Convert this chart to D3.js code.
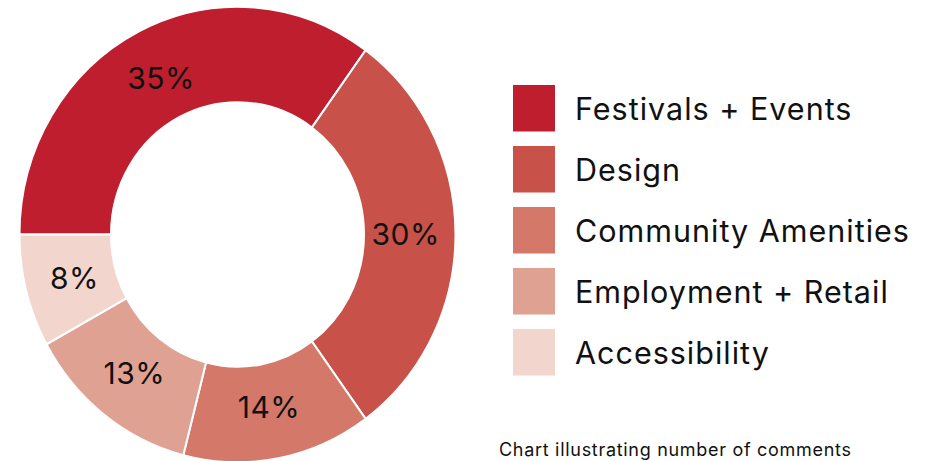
<!DOCTYPE html>
<html>
<head>
<meta charset="utf-8">
<script src="https://d3js.org/d3.v7.min.js"></script>
<style>
  html, body { margin: 0; padding: 0; background: #fff; }
  svg text { font-family: Inter, 'Open Sans', sans-serif; fill: #111; }
</style>
</head>
<body>
<script>
var categories = ['Festivals + Events', 'Design', 'Community Amenities', 'Employment + Retail', 'Accessibility'];
var shares = [35, 30, 14, 13, 8];
var colours = ['#be1e2d', '#c8524a', '#d4796a', '#dfa192', '#f2d6cd'];

var w = 939, h = 461;
var cx = 237.5, cy = 234.5,
    rOuter = 218, rInner = 126.5,
    squash = 1.045; // reference donut is a touch taller than wide

var svg = d3.select('body').append('svg')
  .attr('width', w)
  .attr('height', h);

var colour = d3.scaleOrdinal().domain(categories).range(colours);

var pie = d3.pie()
  .sort(null)
  .startAngle(-Math.PI / 2)
  .endAngle(Math.PI * 1.5)
  .value(function(d, i) { return shares[i]; });

var arcs = pie(categories);

var arc = d3.arc().innerRadius(rInner).outerRadius(rOuter);
var labelArc = d3.arc().innerRadius(rInner - 4).outerRadius(rOuter - 4);

svg.append('g')
  .attr('transform', 'translate(' + cx + ',' + cy + ') scale(1,' + squash + ')')
  .selectAll('path')
  .data(arcs)
  .enter()
  .append('path')
    .attr('d', arc)
    .attr('fill', function(d) { return colour(d.data); })
    .attr('stroke', '#fff')
    .attr('stroke-width', 2);

// percentage labels
svg.append('g')
  .attr('transform', 'translate(' + cx + ',' + cy + ')')
  .selectAll('text')
  .data(arcs)
  .enter()
  .append('text')
    .text(function(d) { return d.value + '%'; })
    .attr('x', function(d) { return labelArc.centroid(d)[0]; })
    .attr('y', function(d) { return labelArc.centroid(d)[1] * squash; })
    .attr('dy', '0.36em')
    .attr('text-anchor', 'middle')
    .style('font-size', '30px')
    .style('letter-spacing', '0.5px');

// legend
var legendY = d3.scaleBand()
  .domain(categories)
  .range([85, 85 + 61 * categories.length]);

var legend = svg.append('g').selectAll('g')
  .data(categories)
  .enter()
  .append('g')
    .attr('transform', function(d) { return 'translate(513,' + legendY(d) + ')'; });

legend.append('rect')
  .attr('width', 42)
  .attr('height', 46.5)
  .attr('fill', function(d) { return colour(d); });

legend.append('text')
  .text(function(d) { return d; })
  .attr('x', 62)
  .attr('y', 35)
  .style('font-size', '30.5px')
  .style('letter-spacing', '1px');

svg.append('text')
  .text('Chart illustrating number of comments')
  .attr('x', 499)
  .attr('y', 456)
  .style('font-size', '18px')
  .style('letter-spacing', '0.7px');
</script>
</body>
</html>
